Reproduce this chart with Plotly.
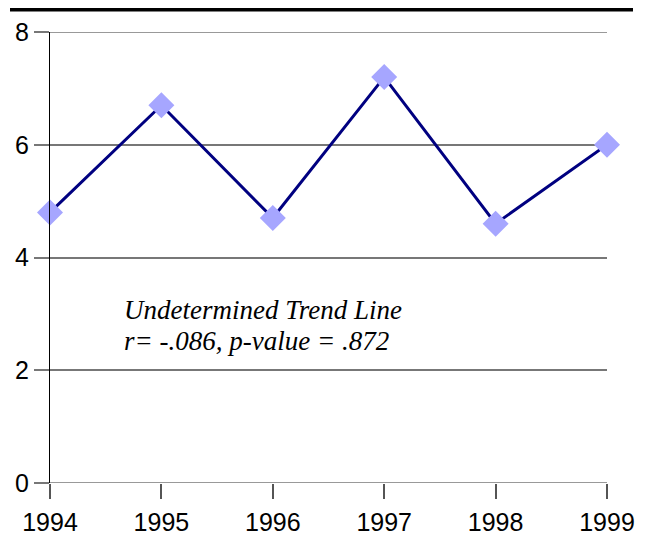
import plotly.graph_objects as go

years = [1994, 1995, 1996, 1997, 1998, 1999]
values = [4.8, 6.7, 4.7, 7.2, 4.6, 6.0]
y_ticks = [0, 2, 4, 6, 8]
note_lines = ["Undetermined Trend Line", "r= -.086, p-value = .872"]

# page has an 8px body margin; figure sized to fit the 645x535 window
OFF = 8
W, H = 645 - OFF, 535 - OFF
L, R, T, B = 50 - OFF, 38, 32 - OFF, 52
pw, ph = W - L - R, H - T - B

def px_x(px):  # page pixel -> paper x
    return (px - OFF - L) / pw

def px_y(py):  # page pixel -> paper y
    return (H - B - (py - OFF)) / ph

fig = go.Figure()
fig.add_trace(go.Scatter(
    x=years, y=values, mode="lines+markers",
    line=dict(color="#000080", width=3),
    marker=dict(symbol="diamond", size=20, color="#a6a6ff"),
    showlegend=False, cliponaxis=False,
))

fig.update_layout(
    width=W, height=H,
    margin=dict(l=L, r=R, t=T, b=B, autoexpand=False),
    paper_bgcolor="white", plot_bgcolor="white",
    font=dict(family="Liberation Sans, Arial", size=25, color="black"),
    xaxis=dict(
        range=[1994, 1999], tickvals=years, ticktext=[str(y) for y in years],
        showgrid=False, zeroline=False, showline=False, automargin=False,
        ticks="outside", ticklen=15, tickcolor="#555555", tickwidth=1.5,
        tickfont=dict(size=25), ticklabelstandoff=2,
    ),
    yaxis=dict(
        range=[0, 8], tickvals=y_ticks, automargin=False,
        showgrid=True, gridcolor="#777777", gridwidth=1.5,
        zeroline=False, showline=True, linecolor="black", linewidth=1,
        ticks="outside", ticklen=15, tickcolor="#777777", tickwidth=1.5,
        tickfont=dict(size=25),
    ),
)

# top black rule
fig.add_shape(type="line", xref="paper", yref="paper",
              x0=px_x(10), x1=px_x(633), y0=px_y(9.5), y1=px_y(9.5),
              line=dict(color="black", width=4))
# edge gridlines at 0 and 8 (gray)
for yv in (y_ticks[0], y_ticks[-1]):
    fig.add_shape(type="line", xref="paper", yref="y",
                  x0=-15 / pw, x1=1, y0=yv, y1=yv,
                  line=dict(color="#777777", width=1.5), layer="below")

for i, line in enumerate(note_lines):
    fig.add_annotation(
        xref="paper", yref="paper",
        x=px_x(122), y=px_y(310 + 31 * i),
        xanchor="left", yanchor="middle", showarrow=False, align="left",
        text="<i>" + line + "</i>",
        font=dict(family="Liberation Serif, Times New Roman", size=27, color="black"),
    )

fig.write_html("out.html")
